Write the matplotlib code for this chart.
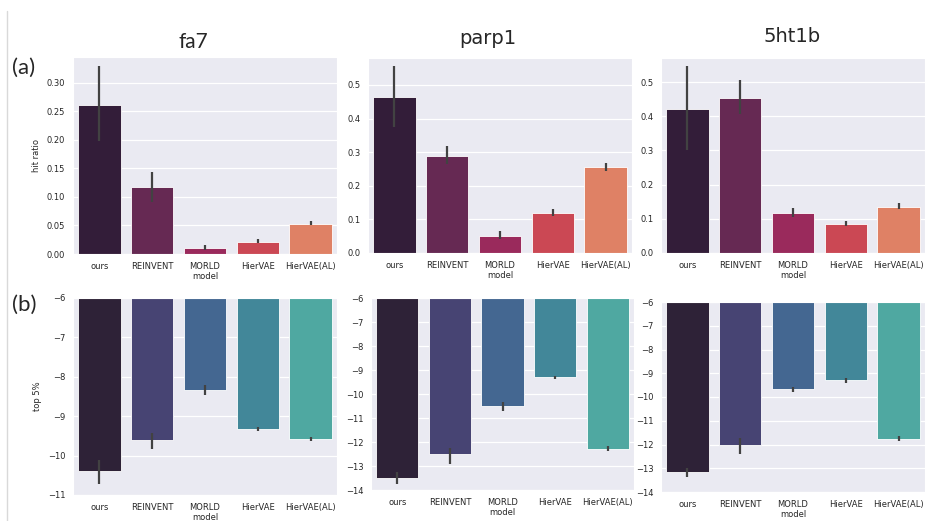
import matplotlib
matplotlib.use("Agg")
import matplotlib.pyplot as plt
import seaborn as sns
from matplotlib.lines import Line2D

sns.set_style("darkgrid")

models = ["ours", "REINVENT", "MORLD", "HierVAE", "HierVAE(AL)"]
targets = ["fa7", "parp1", "5ht1b"]

# hit ratio: mean, lower ci, upper ci
hit_fa7 = [0.262, 0.117, 0.0105, 0.021, 0.053]
hit_fa7_lo = [0.198, 0.092, 0.0064, 0.0186, 0.0507]
hit_fa7_hi = [0.330, 0.1445, 0.015, 0.0256, 0.058]

hit_parp1 = [0.4635, 0.289, 0.050, 0.120, 0.255]
hit_parp1_lo = [0.375, 0.264, 0.042, 0.111, 0.245]
hit_parp1_hi = [0.557, 0.3185, 0.065, 0.130, 0.267]

hit_5ht1b = [0.422, 0.4537, 0.1178, 0.084, 0.136]
hit_5ht1b_lo = [0.300, 0.408, 0.104, 0.079, 0.128]
hit_5ht1b_hi = [0.546, 0.505, 0.133, 0.0927, 0.145]

# top 5% docking score
top_fa7 = [-10.40, -9.61, -8.33, -9.32, -9.57]
top_fa7_lo = [-10.73, -9.84, -8.45, -9.38, -9.63]
top_fa7_hi = [-10.10, -9.42, -8.21, -9.27, -9.53]

top_parp1 = [-13.52, -12.52, -10.48, -9.28, -12.28]
top_parp1_lo = [-13.77, -12.90, -10.69, -9.38, -12.39]
top_parp1_hi = [-13.27, -12.23, -10.34, -9.24, -12.17]

top_5ht1b = [-13.15, -12.03, -9.66, -9.28, -11.75]
top_5ht1b_lo = [-13.36, -12.38, -9.81, -9.39, -11.87]
top_5ht1b_hi = [-13.01, -11.73, -9.56, -9.21, -11.66]

hit_data = [(hit_fa7, hit_fa7_lo, hit_fa7_hi),
            (hit_parp1, hit_parp1_lo, hit_parp1_hi),
            (hit_5ht1b, hit_5ht1b_lo, hit_5ht1b_hi)]
top_data = [(top_fa7, top_fa7_lo, top_fa7_hi),
            (top_parp1, top_parp1_lo, top_parp1_hi),
            (top_5ht1b, top_5ht1b_lo, top_5ht1b_hi)]

W, H = 943, 521
fig = plt.figure(figsize=(W / 100, H / 100), dpi=100)


def box(l, r, t, b):
    return [l / W, 1 - b / H, (r - l) / W, (b - t) / H]


top_boxes = [box(73, 337, 57, 254), box(368, 632, 58, 253), box(661, 925, 58, 253)]
bot_boxes = [box(73, 337, 298, 495), box(371, 634, 298, 490), box(661, 925, 302, 492)]
top_ylims = [(0, 0.3456), (0, 0.58), (0, 0.5705)]
bot_ylims = [(-11, -6), (-14, -6), (-14, -6)]

rocket = sns.color_palette("rocket", 6, desat=0.75)[:5]
mako = sns.color_palette("mako", 6, desat=0.75)[:5]
tick_labels = ["ours", "REINVENT", "MORLD", "HierVAE", "HierVAE(AL)"]


def draw(rect, vals, lo, hi, colors, ylim, ylabel):
    ax = fig.add_axes(rect)
    x = range(len(models))
    ax.bar(x, vals, width=0.8, color=colors, edgecolor="white", linewidth=0.6)
    ax.vlines(x, lo, hi, color=".26", linewidth=1.6, zorder=3)
    ax.set_xlim(-0.5, 4.5)
    ax.set_ylim(*ylim)
    ax.set_xticks(list(x))
    ax.set_xticklabels(tick_labels, fontsize=6, color=".15")
    ax.tick_params(axis="y", labelsize=6, labelcolor=".15", pad=2)
    ax.tick_params(axis="x", pad=2)
    ax.set_xlabel("model", fontsize=6, color=".15", labelpad=1)
    if ylabel:
        ax.set_ylabel(ylabel, fontsize=6, color=".15")
    ax.grid(axis="x", visible=False)
    ax.grid(axis="y", color="white", linewidth=0.9)
    return ax


for i in range(3):
    v, lo, hi = hit_data[i]
    draw(top_boxes[i], v, lo, hi, rocket, top_ylims[i], "hit ratio" if i == 0 else None)
    v, lo, hi = top_data[i]
    draw(bot_boxes[i], v, lo, hi, mako, bot_ylims[i], "top 5%" if i == 0 else None)

# column titles and row labels
fig.text(193 / W, 1 - 42 / H, "fa7", fontsize=15, family="Lato", ha="center", va="center")
fig.text(488 / W, 1 - 38 / H, "parp1", fontsize=14, family="DejaVu Sans", ha="center", va="center")
fig.text(792 / W, 1 - 37 / H, "5ht1b", fontsize=14, family="DejaVu Sans", ha="center", va="center")
fig.text(12 / W, 1 - 68 / H, "(a)", fontsize=16, family="Lato", ha="left", va="center")
fig.text(12 / W, 1 - 305 / H, "(b)", fontsize=16, family="Lato", ha="left", va="center")

fig.add_artist(Line2D([7.5 / W, 7.5 / W], [0, 1 - 11 / H], color="#d9d9d9", linewidth=1))

fig.savefig("out.png", dpi=100)
